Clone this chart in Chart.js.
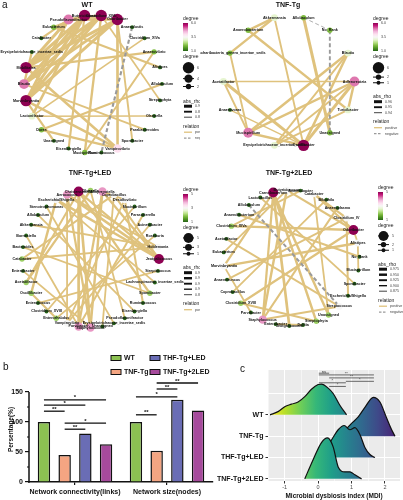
<!DOCTYPE html>
<html>
<head>
<meta charset="utf-8">
<title>Microbial co-occurrence networks</title>
<script src="https://cdn.jsdelivr.net/npm/chart.js@4.4.1/dist/chart.umd.min.js"></script>
<style>
  html, body { margin: 0; padding: 0; background: #fff; }
  #fig { position: relative; width: 403px; height: 500px; overflow: hidden; font-family: "Liberation Sans", Arial, sans-serif; }
  #fig canvas { position: absolute; }
  .tag { position: absolute; font-size: 10px; line-height: 10px; color: #111; }
</style>
</head>
<body>
<div id="fig">
  <canvas id="netWT" width="200" height="166" style="left:0;top:0"></canvas>
  <canvas id="netTNF" width="203" height="166" style="left:200px;top:0"></canvas>
  <canvas id="netLED" width="200" height="178" style="left:0;top:164px"></canvas>
  <canvas id="net2LED" width="203" height="178" style="left:200px;top:164px"></canvas>
  <canvas id="barChart" width="225" height="160" style="left:0;top:340px"></canvas>
  <canvas id="ridgeChart" width="188" height="155" style="left:215px;top:345px"></canvas>
  <div class="tag" style="left:2px;top:0">a</div>
  <div class="tag" style="left:3px;top:362px">b</div>
  <div class="tag" style="left:240px;top:364px">c</div>
</div>
<script>
// ---- panel a : networks (taxa clockwise from the top, degree, links [from, to, abs_rho]) ----
const wtTaxa = ['Butyricimonas', 'Clostridium_XlVb', 'Odoribacter', 'Anaerofustis', 'Clostridium_XlVa', 'Anaerovibrio',
  'Alistipes', 'Allobaculum', 'Streptophyta', 'Olsenella', 'Parabacteroides', 'Sporobacter', 'Vampirovibrio',
  'Ruminococcus', 'Mucispirillum', 'Eisenbergiella', 'Unassigned', 'Dorea', 'Lactonifactor', 'Marvinbryantia',
  'Blautia', 'Mobilitalea', 'Erysipelotrichaceae_incertae_sedis', 'Catabacter', 'Eubacterium', 'Pseudoflavonifractor'];
const wtDegree = [6, 6, 6, 1, 1, 2, 1, 1, 1, 1, 1, 1, 4, 1, 2, 1, 1, 2, 3, 6, 5, 6, 1, 1, 2, 5];
const wtLinks = [
  [0, 19, 0.90], [0, 20, 0.90], [0, 21, 0.90], [0, 18, 0.88], [0, 15, 0.86], [0, 24, 0.88],
  [1, 19, 0.90], [1, 20, 0.89], [1, 21, 0.90], [1, 25, 0.90], [1, 14, 0.87], [1, 8, 0.84],
  [2, 19, 0.90], [2, 20, 0.89], [2, 21, 0.90], [2, 25, 0.89], [2, 12, 0.88], [2, 11, 0.85],
  [25, 19, 0.89], [25, 21, 0.90], [25, 23, 0.86], [19, 12, 0.88], [19, 16, 0.86], [21, 12, 0.88],
  [21, 5, 0.86], [20, 22, 0.87], [20, 10, 0.85], [12, 17, 0.87], [18, 9, 0.83], [18, 4, 0.84],
  [17, 7, 0.86], [14, 5, 0.85], [24, 6, 0.86]];
const wtNegLinks = [[3, 13, 0.86]];

const tnfTaxa = ['Akkermansia', 'Allobaculum', 'No_Rank', 'Blautia', 'Adlercreutzia', 'Turicibacter', 'Unassigned',
  'Oscillibacter', 'Erysipelotrichaceae_incertae_sedis', 'Mucispirillum', 'Anaerovorax', 'Acetatifactor',
  'Saccharibacteria_genera_incertae_sedis', 'Anaerobacterium'];
const tnfDegree = [3, 2, 2, 3, 5, 3, 2, 6, 3, 5, 1, 3, 2, 2];
const tnfLinks = [
  [0, 13, 0.955], [0, 12, 0.955], [0, 7, 0.95], [1, 6, 0.96], [3, 9, 0.955], [3, 8, 0.95], [3, 7, 0.955],
  [4, 11, 0.945], [4, 9, 0.955], [4, 7, 0.96], [4, 8, 0.95], [4, 5, 0.955], [13, 5, 0.955], [9, 12, 0.95],
  [11, 7, 0.96], [11, 9, 0.95], [9, 7, 0.955], [7, 10, 0.945], [8, 5, 0.95]];
const tnfNegLinks = [[1, 2, 0.94], [2, 6, 0.95]];

const ledTaxa = ['Christensenella', 'Olsenella', 'Alloprevotella', 'Coprobacillus', 'Desulfovibrio', 'Mucispirillum',
  'Parasutterella', 'Acinetobacter', 'Roseburia', 'Holdemania', 'Jeotgalicoccus', 'Streptococcus',
  'Lachnospiraceae_incertae_sedis', 'Sporobacter', 'Ruminococcus', 'Eisenbergiella', 'Pseudoflavonifractor',
  'Erysipelotrichaceae_incertae_sedis', 'Unassigned', 'Staphylococcus', 'Parvibacter', 'Vampirovibrio',
  'Enterorhabdus', 'Clostridium_XVIII', 'Enterococcus', 'Oscillibacter', 'Acetatifactor', 'Enterobacter',
  'Catabacter', 'Bacteroides', 'Barnesiella', 'Akkermansia', 'Allobaculum', 'Stenotrophomonas',
  'Escherichia/Shigella', 'Aerococcus'];
const ledDegree = [5, 2, 4, 3, 3, 1, 1, 1, 1, 3, 5, 1, 1, 2, 1, 1, 1, 1, 1, 4, 4, 3, 2, 1, 1, 2, 2, 1, 2, 1, 1, 1, 1, 1, 3, 4];
const ledLinks = [
  [0, 19, 0.96], [0, 20, 0.96], [0, 10, 0.94], [0, 26, 0.93], [0, 13, 0.94],
  [10, 35, 0.96], [10, 2, 0.94], [10, 34, 0.95], [10, 3, 0.93], [2, 20, 0.94], [2, 19, 0.95], [2, 4, 0.92],
  [35, 19, 0.94], [35, 21, 0.92], [35, 9, 0.92], [19, 27, 0.92], [20, 6, 0.93], [20, 30, 0.92],
  [3, 18, 0.92], [3, 28, 0.93], [4, 21, 0.92], [4, 14, 0.93], [9, 28, 0.92], [9, 31, 0.92], [21, 7, 0.92],
  [34, 25, 0.95], [34, 12, 0.92], [1, 16, 0.92], [1, 26, 0.94], [13, 29, 0.92], [22, 8, 0.92], [22, 25, 0.93],
  [5, 23, 0.92], [11, 24, 0.92], [15, 32, 0.92], [17, 33, 0.92]];
const ledNegLinks = [];

const led2Taxa = ['Carnobacterium', 'Butyricicoccus', 'Acinetobacter', 'Catabacter', 'Bilophila', 'Anaeroplasma',
  'Clostridium_IV', 'Odoribacter', 'Alistipes', 'No_Rank', 'Mucispirillum', 'Sporobacter', 'Escherichia/Shigella',
  'Streptococcus', 'Unassigned', 'Streptophyta', 'Delftia', 'Jeotgalicoccus', 'Enterobacter', 'Staphylococcus',
  'Parvibacter', 'Clostridium_XVIII', 'Coprobacillus', 'Anaerotruncus', 'Marvinbryantia', 'Eubacterium',
  'Acetatifactor', 'Clostridium_XlVa', 'Anaerobacterium', 'Allobaculum', 'Lactobacillus'];
const led2Degree = [5, 3, 1, 3, 1, 1, 3, 5, 3, 1, 1, 1, 1, 3, 2, 2, 1, 1, 1, 4, 1, 2, 1, 1, 3, 1, 1, 2, 1, 1, 1];
const led2Links = [
  [0, 17, 0.96], [0, 15, 0.95], [0, 19, 0.94], [0, 24, 0.94], [0, 14, 0.95],
  [7, 21, 0.94], [7, 27, 0.95], [7, 3, 0.94], [7, 8, 0.92], [7, 1, 0.94],
  [1, 19, 0.95], [1, 25, 0.92], [3, 14, 0.92], [3, 6, 0.94], [6, 23, 0.92], [6, 12, 0.93],
  [8, 24, 0.95], [8, 10, 0.92], [24, 20, 0.92], [13, 19, 0.93], [13, 26, 0.92], [19, 5, 0.93],
  [21, 15, 0.93], [27, 2, 0.92], [4, 22, 0.92], [9, 28, 0.93], [11, 30, 0.92], [16, 18, 0.92]];
const led2NegLinks = [[29, 13, 0.93]];

// ---- panel b ----
const barGroups = ['Network connectivity(links)', 'Network size(nodes)'];
const barSeries = ['WT', 'TNF-Tg', 'THF-Tg+LED', 'TNF-Tg+2LED'];
const wtPct = [100, 100];
const tnfPct = [45, 52];
const ledPct = [81, 137];
const led2Pct = [63, 119];
const barTicks = [0, 50, 100, 150];
// [group, series a, series b, height (%), label]
const barSig = [
  [0, 0, 1, 118, '**'], [0, 0, 2, 128, '*'], [0, 0, 3, 137, '*'], [0, 1, 2, 88, '**'], [0, 1, 3, 98, '*'],
  [1, 0, 1, 112, '**'], [1, 0, 2, 142, '*'], [1, 1, 2, 155, '**'], [1, 1, 3, 165, '**']];

// ---- panel c : density ridges (MDI value, ridge height in row units) ----
const mdiGroups = ['WT', 'TNF-Tg', 'THF-Tg+LED', 'TNF-Tg+2LED'];
const wtMdi = [-1.44, -1.2, -1.0, -0.8, -0.6, -0.4, -0.2, 0, 0.1, 0.3, 0.45, 0.65, 0.85];
const wtDens = [0, 0.15, 0.38, 0.5, 0.6, 0.85, 1.2, 1.42, 1.44, 1.25, 1.0, 0.45, 0];
const tnfMdi = [0.5, 0.7, 0.85, 1.0, 1.2, 1.4, 1.65, 1.85, 2.05, 2.2, 2.3];
const tnfDens = [0, 0.1, 0.35, 0.6, 0.9, 1.35, 1.82, 1.6, 0.85, 0.3, 0];
const ledMdi = [0.0, 0.2, 0.45, 0.6, 0.78, 0.95, 1.1, 1.25, 1.4, 1.55, 1.7];
const ledDens = [0, 0.3, 0.95, 1.3, 1.5, 1.3, 1.4, 1.08, 0.47, 0.14, 0];
const led2Mdi = [-0.4, -0.15, 0.1, 0.28, 0.45, 0.6, 0.8, 0.95, 1.1, 1.3];
const led2Dens = [0, 0.9, 1.7, 1.92, 1.5, 0.56, 0.33, 0.33, 0.19, 0];
const mdiTicks = [-1, 0, 1, 2];
const mdiCentres = [0.02, 1.67, 0.83, 0.33];
// [group a, group b, bracket height (row units), label]
const mdiSig = [[0, 3, 4.95, 'ns'], [0, 1, 4.87, '**'], [3, 1, 4.73, '**'], [2, 1, 4.57, '*'], [0, 2, 4.5, '*'], [3, 2, 4.33, '*']];

// ---------------------------------------------------------------
const FONT = '"Liberation Sans", Arial, sans-serif';
Chart.defaults.font.family = FONT;
Chart.defaults.color = '#111';

const EDGE_POS = '#dfc27d';
const EDGE_NEG = '#9a9a9a';
const PIYG = ['#276419', '#4d9221', '#7fbc41', '#b8e186', '#e6f5d0', '#f7f7f7', '#fde0ef', '#f1b6da', '#de77ae', '#c51b7d', '#8e0152'];
const VIRIDIS = ['#fde725', '#b5de2b', '#6ece58', '#35b779', '#1f9e89', '#26828e', '#31688e', '#3e4a89', '#482878', '#440154'];

function hex(h) {
  const v = parseInt(h.slice(1), 16);
  return [(v >> 16) & 255, (v >> 8) & 255, v & 255];
}

function mixStops(stops, t) {
  t = Math.max(0, Math.min(1, t));
  const f = t * (stops.length - 1);
  const k = Math.min(Math.floor(f), stops.length - 2);
  const u = f - k;
  const a = hex(stops[k]), b = hex(stops[k + 1]);
  return 'rgb(' + [0, 1, 2].map(j => Math.round(a[j] + (b[j] - a[j]) * u)).join(',') + ')';
}

function degColor(d, lo, mid, hi) {
  const t = d <= mid ? 0.5 * (d - lo) / (mid - lo) : 0.5 + 0.5 * (d - mid) / (hi - mid);
  return mixStops(PIYG, t);
}

function nodeRadius(d) {
  return 1.2 + 0.75 * d;
}

// draw one network
function drawNetwork(id, o) {
  const canvas = document.getElementById(id);
  const n = o.taxa.length;
  const xy = o.taxa.map((_, i) => {
    const a = (o.start + i * 360 / n) * Math.PI / 180;
    return { x: Math.sin(a), y: Math.cos(a) };
  });
  const lo = 1, hi = Math.max(...o.degree), mid = (lo + hi) / 2;
  const rLo = Math.min(...o.rhoKeys), rHi = Math.max(...o.rhoKeys);
  const width = rho => Math.max(0.6, Math.min(3.2, 0.8 + 2.2 * (rho - rLo) / (rHi - rLo)));

  const sets = [];
  o.links.forEach(l => sets.push({
    data: [xy[l[0]], xy[l[1]]], showLine: true, borderColor: EDGE_POS, borderWidth: width(l[2]),
    pointRadius: 0, clip: false, order: 2
  }));
  o.neg.forEach(l => sets.push({
    data: [xy[l[0]], xy[l[1]]], showLine: true, borderColor: EDGE_NEG, borderWidth: width(l[2]),
    borderDash: [4, 2.5], pointRadius: 0, clip: false, order: 1
  }));
  sets.push({
    data: xy,
    pointRadius: o.degree.map(nodeRadius),
    pointHoverRadius: o.degree.map(nodeRadius),
    pointBackgroundColor: o.degree.map(d => degColor(d, lo, mid, hi)),
    pointBorderWidth: 0,
    clip: false,
    order: 0
  });

  const W = canvas.width, H = canvas.height;
  const pad = { left: o.cx - o.r, right: W - o.cx - o.r, top: o.cy - o.r, bottom: H - o.cy - o.r };

  const netText = {
    id: 'netText',
    afterDatasetsDraw(chart) {
      const ctx = chart.ctx;
      const pts = chart.getDatasetMeta(sets.length - 1).data;
      ctx.save();
      ctx.font = 'bold 3.7px ' + FONT;
      ctx.fillStyle = '#111';
      ctx.textAlign = 'center';
      ctx.textBaseline = 'middle';
      pts.forEach((p, i) => ctx.fillText(o.taxa[i], p.x, p.y));
      ctx.restore();
    },
    afterDraw(chart) {
      const ctx = chart.ctx;
      ctx.save();
      // title
      ctx.font = 'bold 7px ' + FONT;
      ctx.fillStyle = '#111';
      ctx.textAlign = 'center';
      ctx.textBaseline = 'middle';
      ctx.fillText(o.title, o.titleX, o.titleY);

      // legend
      const x = o.legend[0];
      let y = o.legend[1];
      ctx.textAlign = 'left';
      ctx.font = '5px ' + FONT;
      ctx.fillStyle = '#222';
      ctx.fillText('degree', x, y);
      const top = y + 4, h = 28, w = 5;
      const g = ctx.createLinearGradient(0, top + h, 0, top);
      PIYG.forEach((c, k) => g.addColorStop(k / (PIYG.length - 1), c));
      ctx.fillStyle = g;
      ctx.fillRect(x, top, w, h);
      ctx.font = '3.6px ' + FONT;
      ctx.fillStyle = '#444';
      o.degLabels.forEach((t, k) => ctx.fillText(t, x + w + 3, top + k * h / (o.degLabels.length - 1)));

      y = top + h + 6;
      ctx.font = '5px ' + FONT;
      ctx.fillStyle = '#222';
      ctx.fillText('degree', x, y);
      let cy = y + 5;
      o.sizeKeys.forEach((d, k) => {
        const r = nodeRadius(d);
        cy += k === 0 ? r : r + nodeRadius(o.sizeKeys[k - 1]) + 1;
        ctx.strokeStyle = '#111';
        ctx.lineWidth = 1;
        ctx.beginPath();
        ctx.moveTo(x, cy);
        ctx.lineTo(x + 11, cy);
        ctx.stroke();
        ctx.fillStyle = '#111';
        ctx.beginPath();
        ctx.arc(x + 5.5, cy, r, 0, Math.PI * 2);
        ctx.fill();
        ctx.font = '3.6px ' + FONT;
        ctx.fillStyle = '#444';
        ctx.fillText(String(d), x + 14, cy);
      });
      y = cy + nodeRadius(o.sizeKeys[o.sizeKeys.length - 1]) + 12;
      ctx.font = '5px ' + FONT;
      ctx.fillStyle = '#222';
      ctx.fillText('abs_rho', x, y);
      let ky = y;
      o.rhoKeys.forEach((rho, k) => {
        ky = y + 5 + k * 5.5;
        ctx.strokeStyle = '#111';
        ctx.lineWidth = width(rho);
        ctx.beginPath();
        ctx.moveTo(x + 1, ky);
        ctx.lineTo(x + 9, ky);
        ctx.stroke();
        ctx.font = '3.6px ' + FONT;
        ctx.fillStyle = '#444';
        ctx.fillText(rho.toFixed(o.rhoDigits), x + 12, ky);
      });
      y = ky + 9;
      ctx.font = '5px ' + FONT;
      ctx.fillStyle = '#222';
      ctx.fillText('relation', x, y);
      const rel = [['positive', EDGE_POS, []]];
      if (o.neg.length) rel.push(['negative', EDGE_NEG, [2.5, 1.5]]);
      rel.forEach((r, k) => {
        const ry = y + 6 + k * 6;
        ctx.strokeStyle = r[1];
        ctx.lineWidth = 1.3;
        ctx.setLineDash(r[2]);
        ctx.beginPath();
        ctx.moveTo(x + 1, ry);
        ctx.lineTo(x + 9, ry);
        ctx.stroke();
        ctx.setLineDash([]);
        ctx.font = '3.6px ' + FONT;
        ctx.fillStyle = '#444';
        ctx.fillText(r[0], x + 12, ry);
      });
      ctx.restore();
    }
  };

  new Chart(canvas, {
    type: 'scatter',
    data: { datasets: sets },
    options: {
      responsive: false,
      animation: false,
      events: [],
      layout: { padding: pad },
      plugins: { legend: { display: false }, tooltip: { enabled: false } },
      scales: {
        x: { display: false, min: -1, max: 1 },
        y: { display: false, min: -1, max: 1 }
      }
    },
    plugins: [netText]
  });
}

drawNetwork('netWT', {
  title: 'WT', titleX: 87, titleY: 5, taxa: wtTaxa, degree: wtDegree, links: wtLinks, neg: wtNegLinks,
  cx: 93, cy: 84, r: 69, start: -7, legend: [183, 19],
  degLabels: ['6.0', '3.5', '1.0'], sizeKeys: [6, 4, 2], rhoKeys: [0.90, 0.85, 0.80], rhoDigits: 2
});
drawNetwork('netTNF', {
  title: 'TNF-Tg', titleX: 88, titleY: 5, taxa: tnfTaxa, degree: tnfDegree, links: tnfLinks, neg: tnfNegLinks,
  cx: 89, cy: 81.5, r: 65.5, start: -12.86, legend: [173, 19],
  degLabels: ['6.0', '3.5', '1.0'], sizeKeys: [6, 2, 1], rhoKeys: [0.96, 0.95, 0.94], rhoDigits: 2
});
drawNetwork('netLED', {
  title: 'TNF-Tg+LED', titleX: 90, titleY: 9, taxa: ledTaxa, degree: ledDegree, links: ledLinks, neg: ledNegLinks,
  cx: 90.5, cy: 95, r: 68.5, start: -10, legend: [183, 26],
  degLabels: ['5', '3', '1'], sizeKeys: [5, 3, 1], rhoKeys: [0.975, 0.95, 0.925, 0.9, 0.875], rhoDigits: 3
});
drawNetwork('net2LED', {
  title: 'TNF-Tg+2LED', titleX: 89, titleY: 9, taxa: led2Taxa, degree: led2Degree, links: led2Links, neg: led2NegLinks,
  cx: 91.5, cy: 94, r: 68, start: -15.6, legend: [178, 24],
  degLabels: ['5', '3', '1'], sizeKeys: [5, 2, 1], rhoKeys: [0.975, 0.95, 0.925, 0.9, 0.875], rhoDigits: 3
});

// ---- panel b : bar chart ----
const barColors = ['#8cc152', '#f4a582', '#6a6db5', '#a64a9c'];
const barData = [wtPct, tnfPct, ledPct, led2Pct];

const barExtras = {
  id: 'barExtras',
  afterDatasetsDraw(chart) {
    const ctx = chart.ctx;
    const y = chart.scales.y;
    const left = chart.chartArea.left;
    ctx.save();
    // y axis line only up to the last tick
    ctx.strokeStyle = '#111';
    ctx.lineWidth = 1.5;
    ctx.beginPath();
    ctx.moveTo(left, y.getPixelForValue(0) + 0.75);
    ctx.lineTo(left, y.getPixelForValue(barTicks[barTicks.length - 1]));
    ctx.stroke();
    ctx.lineWidth = 1;
    for (let k = 0; k < barTicks.length - 1; k++) {
      const py = y.getPixelForValue((barTicks[k] + barTicks[k + 1]) / 2);
      ctx.beginPath();
      ctx.moveTo(left - 2, py);
      ctx.lineTo(left, py);
      ctx.stroke();
    }
    // significance lines
    ctx.lineWidth = 1.3;
    ctx.fillStyle = '#111';
    ctx.font = 'bold 6px ' + FONT;
    ctx.textAlign = 'center';
    ctx.textBaseline = 'bottom';
    barSig.forEach(s => {
      const xa = chart.getDatasetMeta(s[1]).data[s[0]].x;
      const xb = chart.getDatasetMeta(s[2]).data[s[0]].x;
      const py = y.getPixelForValue(s[3]);
      ctx.beginPath();
      ctx.moveTo(xa, py);
      ctx.lineTo(xb, py);
      ctx.stroke();
      ctx.fillText(s[4], (xa + xb) / 2, py + 1);
    });
    // legend, two columns
    ctx.textAlign = 'left';
    ctx.textBaseline = 'middle';
    ctx.font = 'bold 7px ' + FONT;
    barSeries.forEach((s, i) => {
      const lx = i < 2 ? 111 : 150;
      const ly = i % 2 ? 32 : 18;
      ctx.fillStyle = barColors[i];
      ctx.fillRect(lx, ly - 2.5, 10, 5);
      ctx.lineWidth = 1;
      ctx.strokeRect(lx, ly - 2.5, 10, 5);
      ctx.fillStyle = '#111';
      ctx.fillText(s, lx + 13, ly);
    });
    ctx.restore();
  }
};

new Chart(document.getElementById('barChart'), {
  type: 'bar',
  data: {
    labels: barGroups,
    datasets: barSeries.map((s, i) => ({
      label: s, data: barData[i], backgroundColor: barColors[i], borderColor: '#111', borderWidth: 1.5,
      categoryPercentage: 0.9, barPercentage: 0.6
    }))
  },
  options: {
    responsive: false,
    animation: false,
    events: [],
    layout: { padding: { top: 37, right: 12, left: 0, bottom: 0 } },
    plugins: { legend: { display: false }, tooltip: { enabled: false } },
    scales: {
      x: {
        grid: { display: true, drawOnChartArea: false, offset: false, tickLength: 3, color: '#111', lineWidth: 1.2 },
        border: { display: true, color: '#111', width: 1.5 },
        ticks: { font: { size: 7, weight: 'bold' }, color: '#111', padding: 3, maxRotation: 0, minRotation: 0, autoSkip: false },
        afterFit: s => { s.height = 18; }
      },
      y: {
        min: 0, max: 175,
        afterBuildTicks: s => { s.ticks = barTicks.map(v => ({ value: v })); },
        ticks: { font: { size: 7, weight: 'bold' }, color: '#111', padding: 2 },
        grid: { drawOnChartArea: false, tickLength: 4, color: '#111', lineWidth: 1.2 },
        border: { display: false },
        title: { display: true, text: 'Persentage(%)', font: { size: 6.5, weight: 'bold' }, color: '#111', padding: { top: 7, bottom: 0 } },
        afterFit: s => { s.width = 29; }
      }
    }
  },
  plugins: [barExtras]
});

// ---- panel c : ridgeline ----
const ridgeX = [wtMdi, tnfMdi, ledMdi, led2Mdi];
const ridgeH = [wtDens, tnfDens, ledDens, led2Dens];
const allMdi = [].concat(...ridgeX);
const mdiMin = Math.min(...allMdi), mdiMax = Math.max(...allMdi);

function ridgeFill(c) {
  const chart = c.chart;
  const xs = chart.scales.x;
  if (!chart.chartArea || !xs) return 'rgba(0,0,0,0)';
  // colour follows the MDI value; stretched a little to the right
  const g = chart.ctx.createLinearGradient(xs.getPixelForValue(mdiMin), 0, xs.getPixelForValue(mdiMax + 0.4), 0);
  VIRIDIS.forEach((col, k) => g.addColorStop(k / (VIRIDIS.length - 1), col));
  return g;
}

const ridgeExtras = {
  id: 'ridgeExtras',
  beforeDraw(chart) {
    const a = chart.chartArea;
    const ctx = chart.ctx;
    ctx.save();
    ctx.fillStyle = '#ebebeb';
    ctx.fillRect(a.left, a.top, a.right - a.left, a.bottom - a.top);
    ctx.restore();
  },
  afterDatasetsDraw(chart) {
    const ctx = chart.ctx;
    const xs = chart.scales.x, ys = chart.scales.y;
    ctx.save();
    ctx.strokeStyle = '#444';
    ctx.fillStyle = '#333';
    ctx.lineWidth = 0.8;
    ctx.font = '4px ' + FONT;
    ctx.textAlign = 'center';
    ctx.textBaseline = 'bottom';
    mdiSig.forEach(s => {
      const xa = xs.getPixelForValue(mdiCentres[s[0]]);
      const xb = xs.getPixelForValue(mdiCentres[s[1]]);
      const py = ys.getPixelForValue(s[2]);
      ctx.beginPath();
      ctx.moveTo(xa, py);
      ctx.lineTo(xb, py);
      ctx.stroke();
      ctx.fillText(s[3], (xa + xb) / 2, py + 0.5);
    });
    ctx.restore();
  }
};

new Chart(document.getElementById('ridgeChart'), {
  type: 'line',
  data: {
    datasets: mdiGroups.map((g, i) => {
      const base = mdiGroups.length - 1 - i;
      return {
        label: g,
        data: ridgeX[i].map((x, k) => ({ x: x, y: base + ridgeH[i][k] })),
        fill: { value: base },
        backgroundColor: ridgeFill,
        borderColor: '#111',
        borderWidth: 1.2,
        pointRadius: 0,
        cubicInterpolationMode: 'monotone',
        clip: false,
        order: mdiGroups.length - i
      };
    })
  },
  options: {
    responsive: false,
    animation: false,
    events: [],
    layout: { padding: { top: 25, right: 3, left: 0, bottom: 0 } },
    plugins: { legend: { display: false }, tooltip: { enabled: false } },
    scales: {
      x: {
        type: 'linear', min: -1.5, max: 2.45,
        ticks: {
          stepSize: 0.5, includeBounds: false, autoSkip: false, maxRotation: 0,
          callback: v => mdiTicks.includes(v) ? String(v) : '',
          font: { size: 5.5 }, color: '#4d4d4d', padding: 1
        },
        grid: {
          color: '#ffffff',
          lineWidth: c => mdiTicks.includes(c.tick.value) ? 1 : 0.5,
          tickColor: c => mdiTicks.includes(c.tick.value) ? '#333' : 'rgba(0,0,0,0)',
          tickLength: 2.5
        },
        border: { display: false },
        title: { display: true, text: 'Microbial dysbiosis index (MDI)', font: { size: 6.5, weight: 'bold' }, color: '#111', padding: { top: 1, bottom: 0 } },
        afterFit: s => { s.height = 19; }
      },
      y: {
        type: 'linear', min: -0.1, max: 5.1,
        ticks: {
          stepSize: 1, includeBounds: false,
          callback: v => (v >= 0 && v < mdiGroups.length) ? mdiGroups[mdiGroups.length - 1 - v] : '',
          font: { size: 7, weight: 'bold' }, color: '#111', padding: 2
        },
        grid: {
          color: c => c.tick.value <= mdiGroups.length ? '#ffffff' : 'rgba(0,0,0,0)',
          lineWidth: 1,
          tickColor: c => c.tick.value < mdiGroups.length ? '#333' : 'rgba(0,0,0,0)',
          tickLength: 2.5
        },
        border: { display: false },
        afterFit: s => { s.width = 53; }
      }
    }
  },
  plugins: [ridgeExtras]
});
</script>
</body>
</html>
